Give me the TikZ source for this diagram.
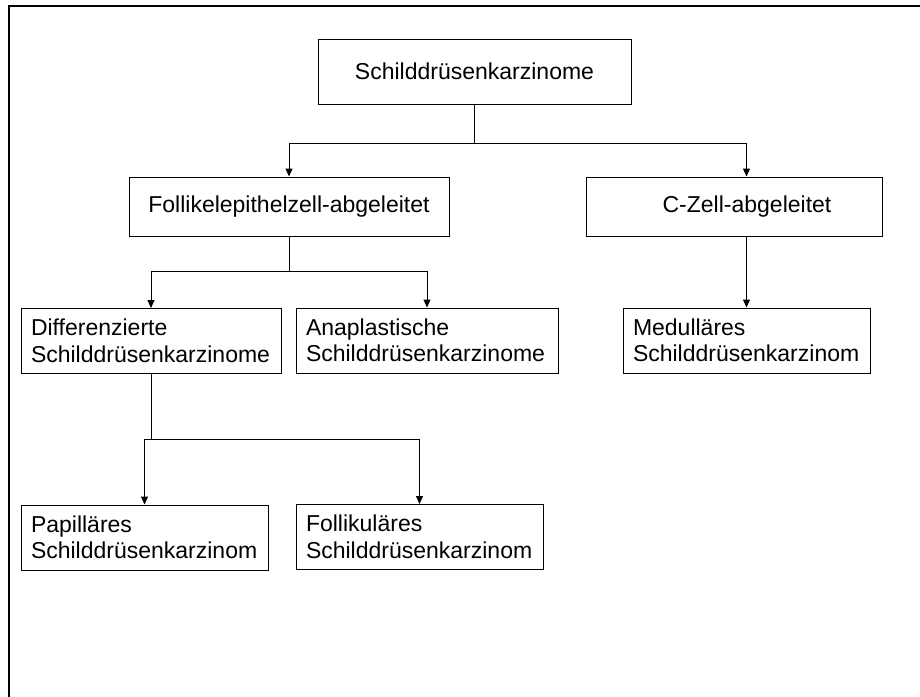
\documentclass[tikz,border=0pt]{standalone}
\usepackage{fontspec}
\setmainfont{Liberation Sans}
\usetikzlibrary{arrows.meta}
\begin{document}
\begin{tikzpicture}[x=1pt,y=-1pt,
  box/.style={draw=black, line width=1pt, rectangle, inner xsep=10pt, inner ysep=0pt,
    font=\fontsize{23}{26.5}\selectfont},
  twoline/.style={box, align=left, minimum height=65pt},
  conn/.style={draw=black, line width=1pt},
  arr/.style={conn, -{Triangle[length=8pt,width=7pt]}}]
\useasboundingbox (0,0) rectangle (920,696);
\fill[white] (0,0) rectangle (920,696);
% outer frame (top and left edges)
\coordinate (fbl) at (9,696);
\coordinate (ftl) at (9,6);
\coordinate (ftr) at (920,6);
\draw[line width=2.2pt, line cap=rect] (fbl) -- (ftl) -- (ftr);
% boxes
\node[box, minimum width=313pt, minimum height=65pt] (top) at (474.5,71.5) {Schilddrüsenkarzinome};
\node[box, minimum width=320pt, minimum height=59pt] (foll) at (289,206.5) {Follikelepithelzell-abgeleitet};
\node[box, minimum width=296pt, minimum height=59pt] (czell) at (734,206.5) {};
\node[font=\fontsize{23}{26.5}\selectfont, inner sep=0pt] (czelltext) at (747,206.5) {C-Zell-abgeleitet};
\node[twoline, text width=240pt] (diff) at (151,341) {Differenzierte\\Schilddrüsenkarzinome};
\node[twoline, text width=242pt] (ana) at (427,340.5) {Anaplastische\\Schilddrüsenkarzinome};
\node[twoline, text width=227pt] (med) at (746.5,340.5) {Medulläres\\Schilddrüsenkarzinom};
\node[twoline, text width=227pt] (pap) at (144.5,537.5) {Papilläres\\Schilddrüsenkarzinom};
\node[twoline, text width=227pt] (fol) at (419.5,537) {Follikuläres\\Schilddrüsenkarzinom};
% junctions
\coordinate (j1) at (474.5,143);
\coordinate (j2) at (289,271);
\coordinate (j3) at (151,439);
% connectors
\draw[conn] (top.south) -- (j1);
\draw[arr] (j1) -| (foll.north);
\draw[arr] (j1) -| (med.north |- czell.north);
\draw[conn] (foll.south) -- (j2);
\draw[arr] (j2) -| (diff.north);
\draw[arr] (j2) -| (ana.north);
\draw[arr] (med.north |- czell.south) -- (med.north);
\draw[conn] (diff.south) -- (j3);
\draw[arr] (j3) -| (pap.north);
\draw[arr] (j3) -| (fol.north);
\end{tikzpicture}
\end{document}
